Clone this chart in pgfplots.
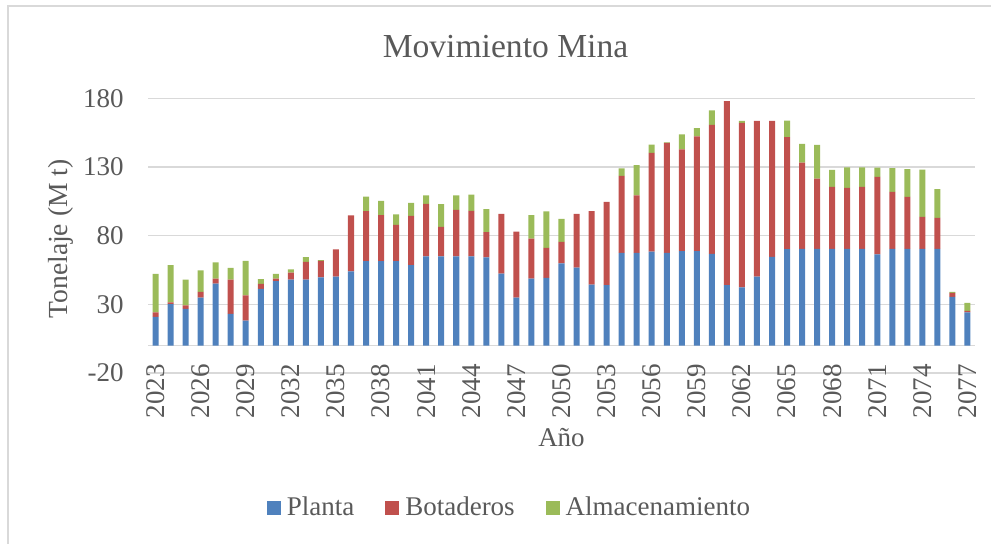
\documentclass[border=0pt]{standalone}
\usepackage{pgfplots}
\usepackage{pgfplotstable}
\pgfplotsset{compat=1.18}
\usepackage{fontspec}
\setmainfont{Liberation Serif}
\definecolor{cblue}{HTML}{4F81BD}
\definecolor{cred}{HTML}{C0504D}
\definecolor{cgreen}{HTML}{9BBB59}
\definecolor{ctext}{HTML}{595959}
\definecolor{cgrid}{HTML}{D9D9D9}
\pgfplotstableread{
x B R G
0 20.8 3.4 27.9
1 30.1 1.4 27.0
2 26.7 2.6 18.7
3 34.9 4.1 15.8
4 45.1 3.7 11.8
5 23.0 25.0 8.5
6 18.2 18.4 25.0
7 41.2 3.7 3.4
8 46.8 2.0 3.3
9 48.0 5.1 2.4
10 48.0 12.9 3.4
11 49.7 11.9 0.5
12 50.2 19.8 0
13 54.0 40.7 0
14 61.4 36.4 10.7
15 61.4 33.5 10.4
16 61.4 26.4 7.6
17 58.5 35.9 9.4
18 65.0 38.1 6.3
19 65.0 21.4 16.5
20 65.0 33.7 10.7
21 65.0 33.0 11.9
22 64.1 18.4 16.9
23 52.4 43.4 0
24 34.9 48.1 0
25 48.8 29.1 17.0
26 49.2 21.9 26.5
27 59.9 15.5 16.8
28 56.8 39.0 0
29 44.4 53.4 0
30 43.9 60.7 0
31 67.4 56.1 5.4
32 67.4 42.0 21.9
33 68.4 71.8 6.1
34 67.4 80.2 0.4
35 68.7 74.2 10.8
36 68.7 83.5 6.0
37 66.7 93.9 10.7
38 43.9 134.0 0
39 42.4 119.7 1.4
40 50.2 113.3 0
41 64.5 99.0 0
42 70.1 81.6 12.1
43 70.3 62.9 13.6
44 70.3 51.3 24.5
45 70.3 45.2 12.3
46 70.3 44.5 15.0
47 70.3 45.2 14.3
48 66.3 56.5 6.8
49 70.3 41.5 17.3
50 70.3 37.9 20.2
51 70.3 23.3 34.5
52 70.3 22.6 20.9
53 35.4 2.9 0.7
54 24.2 1.0 5.8
}\datatable
\begin{document}
\begin{tikzpicture}
\path[use as bounding box] (0,0) rectangle (495.5pt,-272pt);
\draw[cgrid, line width=0.8pt] (4pt,-272pt) -- (4pt,-3pt) -- (495.5pt,-3pt);
\node[anchor=base, text=ctext, font=\fontsize{16.8}{20}\selectfont] at (252.75pt,-29pt) {Movimiento Mina};
\begin{axis}[
  at={(74pt,-186.5pt)}, anchor=south west,
  scale only axis, width=413.5pt, height=137.35pt,
  ybar stacked, bar width=0.4,
  xmin=-0.5, xmax=54.5, ymin=-20, ymax=180,
  ytick={-20,30,80,130,180},
  xtick={0,3,...,54},
  xticklabels={2023,2026,2029,2032,2035,2038,2041,2044,2047,2050,2053,2056,2059,2062,2065,2068,2071,2074,2077},
  axis lines*=left,
  axis line style={draw=none},
  tick style={draw=none},
  ymajorgrids, major grid style={cgrid, line width=0.8pt},
  extra y ticks={0}, extra y tick labels={},
  extra y tick style={grid=major, major grid style={cgrid, line width=0.8pt}},
  /pgf/number format/assume math mode=true,
  ticklabel style={font=\fontsize{13.5}{16}\selectfont, text=ctext},
  yticklabel style={anchor=east, inner sep=0pt, xshift=-12pt},
  xticklabel style={rotate=90, anchor=east, inner sep=0pt},
  xticklabel shift=-4.5pt,
  xlabel={Año},
  xlabel style={at={(axis description cs:0.5,-0.2676)}, anchor=base, font=\fontsize{13.5}{16}\selectfont, text=ctext},
  ylabel={Tonelaje (M t)},
  ylabel style={at={(axis description cs:-0.0973,0.488)}, anchor=base, rotate=0, font=\fontsize{13.8}{16}\selectfont, text=ctext},
  legend columns=-1,
  legend style={at={(axis description cs:0.4395,-0.4914)}, anchor=center, draw=none, fill=none,
    font=\fontsize{13.5}{16}\selectfont, text=ctext,
    nodes={inner xsep=3pt, inner ysep=0pt},
    /tikz/every even column/.append style={column sep=12.5pt}},
  legend image code/.code={\fill[#1] (0pt,-3.5pt) rectangle (7pt,3.5pt);},
]
\addplot[fill=cblue, draw=none] table[x=x, y=B] {\datatable};
\addplot[fill=cred, draw=none] table[x=x, y=R] {\datatable};
\addplot[fill=cgreen, draw=none] table[x=x, y=G] {\datatable};
\legend{Planta, Botaderos, Almacenamiento}
\end{axis}
\end{tikzpicture}
\end{document}
